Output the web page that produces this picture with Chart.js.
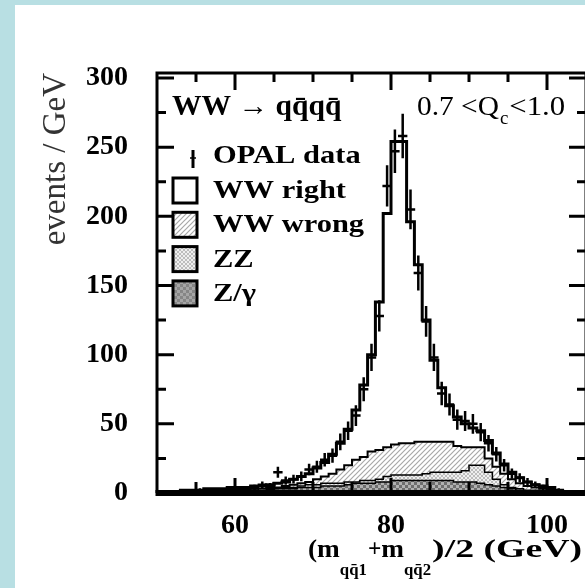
<!DOCTYPE html>
<html>
<head>
<meta charset="utf-8">
<script src="https://cdn.jsdelivr.net/npm/chart.js@4.4.0/dist/chart.umd.min.js"></script>
<style>
html, body { margin: 0; padding: 0; background: #b8dfe3; width: 585px; height: 588px; overflow: hidden; }
#box { position: absolute; left: 15px; top: 5px; width: 570px; height: 583px; background: #fff; overflow: hidden; }
canvas { display: block; }
</style>
</head>
<body>
<div id="box"><canvas id="massChart" width="600" height="583" style="width:600px;height:583px"></canvas></div>
<script>
// bins of 1 GeV, lower edge 50 ... 104
var firstEdge = 50;
var binWidth = 1;

// stacked tops (events / GeV)
var mcTotal = [1,1,1,2,2,2,3,3,3,4,4,4,5,5,6,7,8,10,12,14,18,22,28,36,46,60,78,100,138,202,
               254,254,196,165,125,96,76,63,55,50,47,45,38,29,21,15,11,8,6,5,4,2,1,0,0];
var wwWrongTop = [1,1,1,1,1,1,2,2,2,2,3,3,3,3,4,4,5,6,7,8,10,12,14,17,20,24,26,30,31,33,
                  35,36,36,37,37,37,37,37,34,33,33,33,25,19,14,10,7,5,4,3,2,1,1,0,0];
var zzTop = [1,1,1,1,1,1,1,1,2,2,2,2,2,3,3,3,4,4,5,6,6,7,7,7,8,8,9,9,10,12,
             13,13,13,13,14,15,15,15,15,16,20,20,15,10,6,4,3,2,2,1,1,0.5,0,0,0];
var zGamma = [0.5,0.5,1,1,1,1,1,1,1.5,1.5,2,2,2,2,2.5,3,3,3,4,4,4,5,5,5,6,7,7,7,8,8,
              9,9,9,9,9,9,9,9,8,8,8,7,6,5,4,3,2,1.5,1,1,0.5,0.5,0,0,0];

// OPAL data, bin centres 50.5 ... 104.5
var dataVals = [0,1,0,1,1,2,1,2,2,3,3,3,4,6,5,15,9,10,12,17,19,24,27,37,45,56,75,98,128,222,
                247,258,205,159,124,98,72,64,53,52,50,44,36,28,20,14,11,8,6,4,3,2,1,0,0];
var dataErr = [0,1,0,1,1,1.4,1,1.4,1.4,1.7,1.7,1.7,2,2.4,2.2,3.9,3,3.2,3.5,4.1,4.4,4.9,5.2,6.1,6.7,7.5,8.7,9.9,11.3,14.9,
               15.7,16.1,14.3,12.6,11.1,9.9,8.5,8,7.3,7.2,7.1,6.6,6,5.3,4.5,3.7,3.3,2.8,2.4,2,1.7,1.4,1,0,0];

var xTicks = [60, 80, 100];
var xMinor = [55, 65, 70, 75, 85, 90, 95];
var yTicks = [0, 50, 100, 150, 200, 250, 300];
var yMinor = [25, 75, 125, 175, 225, 275];

var SERIF = "'Liberation Serif', 'DejaVu Serif', serif";

var canvas = document.getElementById('massChart');
var ctx = canvas.getContext('2d');

function makePattern(size, draw) {
  var c = document.createElement('canvas');
  c.width = size; c.height = size;
  var p = c.getContext('2d');
  p.fillStyle = '#fff';
  p.fillRect(0, 0, size, size);
  draw(p, size);
  return ctx.createPattern(c, 'repeat');
}
function checker(a, b, cell) {
  return makePattern(cell * 2, function (p) {
    p.fillStyle = a; p.fillRect(0, 0, cell * 2, cell * 2);
    p.fillStyle = b; p.fillRect(0, 0, cell, cell); p.fillRect(cell, cell, cell, cell);
  });
}
var hatch = makePattern(5, function (p, s) {
  p.strokeStyle = '#a8a8a8'; p.lineWidth = 1.2;
  p.beginPath();
  p.moveTo(0, s); p.lineTo(s, 0);
  p.moveTo(-1, 1); p.lineTo(1, -1);
  p.moveTo(s - 1, s + 1); p.lineTo(s + 1, s - 1);
  p.stroke();
});
var zzFill = checker('#efefef', '#bdbdbd', 2);
var zgFill = checker('#b0b0b0', '#6e6e6e', 3);
var zgLegend = checker('#a6a6a6', '#868686', 3);

function steps(vals) {
  var pts = vals.map(function (v, i) { return {x: firstEdge + i * binWidth, y: v}; });
  pts.push({x: firstEdge + vals.length * binWidth, y: vals[vals.length - 1]});
  return pts;
}
function histo(label, vals, fill, width) {
  return {
    label: label, data: steps(vals), stepped: true, fill: 'origin',
    backgroundColor: fill, borderColor: '#000', borderWidth: width,
    pointRadius: 0, tension: 0
  };
}

var dataPoints = dataVals.map(function (v, i) { return {x: firstEdge + (i + 0.5) * binWidth, y: v}; });

function sText(c, t, x, y, font, sx) {
  c.save();
  c.font = font;
  c.translate(x, y);
  c.scale(sx || 1, 1);
  c.fillText(t, 0, 0);
  var w = c.measureText(t).width * (sx || 1);
  c.restore();
  return w;
}

var decor = {
  id: 'decor',
  afterDraw: function (chart) {
    var c = chart.ctx, a = chart.chartArea;
    var xs = chart.scales.x, ys = chart.scales.y;
    c.save();
    c.fillStyle = '#000';
    c.strokeStyle = '#000';

    // error bars
    c.save();
    c.beginPath(); c.rect(a.left, a.top, a.right - a.left, a.bottom - a.top); c.clip();
    c.lineWidth = 2.5;
    dataPoints.forEach(function (p, i) {
      if (dataVals[i] <= 0) return;
      var x = xs.getPixelForValue(p.x);
      var y = ys.getPixelForValue(p.y);
      c.beginPath();
      c.moveTo(x, ys.getPixelForValue(p.y + dataErr[i]));
      c.lineTo(x, ys.getPixelForValue(Math.max(0, p.y - dataErr[i])));
      c.moveTo(xs.getPixelForValue(p.x - 0.6), y);
      c.lineTo(xs.getPixelForValue(p.x + 0.6), y);
      c.stroke();
    });
    c.restore();

    // frame
    c.lineWidth = 3;
    c.beginPath();
    c.moveTo(a.left, a.bottom); c.lineTo(a.left, a.top); c.lineTo(a.right, a.top); c.lineTo(a.right, a.bottom);
    c.stroke();
    c.lineWidth = 6;
    c.beginPath(); c.moveTo(a.left - 1.5, a.bottom); c.lineTo(a.right, a.bottom); c.stroke();

    // inward ticks
    c.lineWidth = 3;
    function yTick(v, len) {
      var y = ys.getPixelForValue(v);
      c.beginPath();
      c.moveTo(a.left, y); c.lineTo(a.left + len, y);
      c.moveTo(a.right, y); c.lineTo(a.right - len, y);
      c.stroke();
    }
    function xTick(v, len, lenB) {
      var x = xs.getPixelForValue(v);
      c.beginPath();
      c.moveTo(x, a.top); c.lineTo(x, a.top + len);
      c.moveTo(x, a.bottom); c.lineTo(x, a.bottom - lenB);
      c.stroke();
    }
    yTicks.forEach(function (v) { yTick(v, 17); });
    yMinor.forEach(function (v) { yTick(v, 9); });
    xTicks.forEach(function (v) { xTick(v, 17, 15); });
    xMinor.forEach(function (v) { xTick(v, 9, 11); });

    // legend block
    c.textBaseline = 'alphabetic';
    sText(c, 'WW \u2192 qq\u0304qq\u0304', 157, 110, 'bold 29px ' + SERIF, 1.02);
    var qx = 402;
    qx += sText(c, '0.7 <Q', qx, 110, '28px ' + SERIF, 1.05);
    qx += sText(c, 'c', qx + 1, 119, '18px ' + SERIF, 1.05) + 2;
    sText(c, '<1.0', qx, 110, '28px ' + SERIF, 1.1);

    var lf = 'bold 25px ' + SERIF;
    c.lineWidth = 3;
    c.beginPath(); c.moveTo(178, 145); c.lineTo(178, 163); c.stroke();
    c.lineWidth = 1.5;
    c.beginPath(); c.moveTo(175, 153); c.lineTo(181, 153); c.stroke();
    sText(c, 'OPAL data', 198, 158, lf, 1.22);

    var rows = [
      {t: 'WW right', f: '#fff'},
      {t: 'WW wrong', f: hatch},
      {t: 'ZZ', f: zzFill},
      {t: 'Z/\u03b3', f: zgLegend}
    ];
    rows.forEach(function (r, i) {
      var top = 173 + i * 34.3;
      c.fillStyle = r.f;
      c.fillRect(158, top, 24, 25);
      c.lineWidth = 3;
      c.strokeRect(158, top, 24, 25);
      c.fillStyle = '#000';
      sText(c, r.t, 198, top + 20, lf, 1.22);
    });

    // x axis title with subscripts
    var bx = 293, base = 552, sub = 570;
    var mf = 'bold 26px ' + SERIF, sf = 'bold 16px ' + SERIF;
    bx += sText(c, '(m', bx, base, mf, 1.05);
    bx += sText(c, 'qq\u03041', bx, sub, sf, 1.05) + 1;
    bx += sText(c, '+', bx, base, mf, 0.9);
    bx += sText(c, 'm', bx, base, mf, 1.05);
    bx += sText(c, 'qq\u03042', bx, sub, sf, 1.05) + 1;
    c.font = mf;
    var tail = ')/2 (GeV)';
    sText(c, tail, bx, base, mf, (567 - bx) / c.measureText(tail).width);
    c.restore();
  }
};

var chart = new Chart(ctx, {
  type: 'line',
  data: {
    datasets: [
      {type: 'scatter', label: 'OPAL data', data: dataPoints, pointRadius: 0, showLine: false},
      histo('Z/\u03b3', zGamma, zgFill, 1.5),
      histo('ZZ', zzTop, zzFill, 1.5),
      histo('WW wrong', wwWrongTop, hatch, 2),
      histo('WW right', mcTotal, '#fff', 3)
    ]
  },
  options: {
    responsive: false,
    animation: false,
    devicePixelRatio: 1,
    layout: {padding: {left: 0, top: 68, right: 29, bottom: 0}},
    plugins: {legend: {display: false}, tooltip: {enabled: false}},
    scales: {
      x: {
        type: 'linear', min: 50, max: 105,
        afterBuildTicks: function (s) { s.ticks = xTicks.map(function (v) { return {value: v}; }); },
        afterFit: function (s) { s.height = 95; },
        grid: {display: false, drawTicks: false},
        border: {display: false},
        ticks: {color: '#000', padding: 16, maxRotation: 0, font: {family: SERIF, size: 28, weight: 'bold'}}
      },
      y: {
        min: 0, max: 303.6,
        afterBuildTicks: function (s) { s.ticks = yTicks.map(function (v) { return {value: v}; }); },
        afterFit: function (s) { s.width = 142; },
        grid: {display: false, drawTicks: false},
        border: {display: false},
        ticks: {color: '#000', padding: 29, font: {family: SERIF, size: 28, weight: 'bold'}},
        title: {
          display: true, text: 'events / GeV', align: 'end', color: '#333',
          padding: {top: 22, bottom: 0},
          font: {family: SERIF, size: 33, weight: 'normal'}
        }
      }
    }
  },
  plugins: [decor]
});
</script>
</body>
</html>
